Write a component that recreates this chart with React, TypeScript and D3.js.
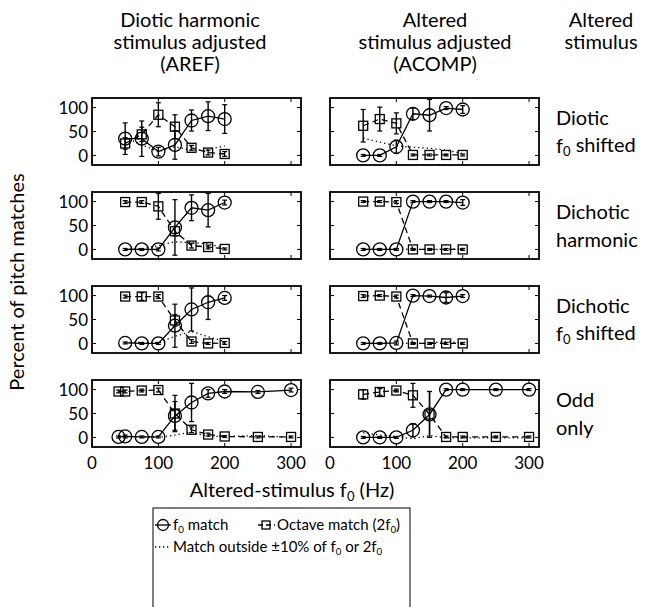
import React from "react";
import * as d3 from "d3";

// ---------- tick labels / categories ----------
const xTicks = [0, 100, 200, 300];
const yTicks = [0, 50, 100];
const colTitles = [
  ["Diotic harmonic", "stimulus adjusted", "(AREF)"],
  ["Altered", "stimulus adjusted", "(ACOMP)"],
];
const sideTitle = ["Altered", "stimulus"];
// each row label: list of lines, each line is [text, subscript?, rest?]
const rowLabels: string[][][] = [
  [["Diotic"], ["f", "0", " shifted"]],
  [["Dichotic"], ["harmonic"]],
  [["Dichotic"], ["f", "0", " shifted"]],
  [["Odd"], ["only"]],
];

// ---------- x values (Hz) ----------
const fShort = [50, 75, 100, 125, 150, 175, 200];
const fLongA = [40, 50, 75, 100, 125, 150, 175, 200, 250, 300];
const fLongC = [50, 75, 100, 125, 150, 175, 200, 250, 300];

// ---------- Row 1: Diotic f0 shifted ----------
const r1aF0 = [35, 35, 8, 22, 73, 82, 76];
const r1aF0Err = [33, 37, 9, 30, 22, 30, 30];
const r1aOct = [25, 44, 85, 60, 16, 6, 3];
const r1aOctErr = [12, 15, 25, 25, 5, 5, 5];
const r1aOut = [38, 22, 8, 18, 11, 12, 20];

const r1cF0 = [0, 0, 18, 87, 84, 99, 96];
const r1cF0Err = [2, 2, 14, 12, 33, 3, 8];
const r1cOct = [62, 76, 67, 1, 1, 1, 1];
const r1cOctErr = [34, 25, 22, 2, 2, 2, 2];
const r1cOut = [36, 28, 20, 17, 15, 11, 4];

// ---------- Row 2: Dichotic harmonic ----------
const r2aF0 = [0, 0, 0, 46, 87, 82, 98];
const r2aF0Err = [2, 2, 3, 58, 27, 35, 5];
const r2aOct = [99, 99, 90, 38, 8, 5, 1];
const r2aOctErr = [3, 3, 27, 10, 5, 4, 2];
const r2aOut = [1, 1, 8, 16, 14, 12, 2];

const r2cF0 = [0, 0, 0, 100, 100, 100, 98];
const r2cF0Err = [2, 2, 2, 2, 2, 2, 6];
const r2cOct = [100, 100, 99, 0, 0, 0, 0];
const r2cOctErr = [2, 2, 3, 2, 2, 2, 2];
const r2cOut = [0, 0, 1, 0, 0, 0, 2];

// ---------- Row 3: Dichotic f0 shifted ----------
const r3aF0 = [1, 0, 0, 37, 71, 86, 95];
const r3aF0Err = [2, 2, 2, 45, 45, 36, 5];
const r3aOct = [98, 98, 98, 48, 4, 0, 1];
const r3aOctErr = [3, 8, 4, 12, 4, 2, 3];
const r3aOut = [2, 2, 2, 15, 25, 14, 4];

const r3cF0 = [0, 0, 1, 100, 99, 96, 99];
const r3cF0Err = [2, 2, 4, 2, 2, 10, 3];
const r3cOct = [99, 100, 98, 0, 0, 0, 0];
const r3cOctErr = [3, 2, 3, 2, 2, 2, 2];
const r3cOut = [1, 0, 1, 0, 1, 4, 1];

// ---------- Row 4: Odd only ----------
const r4aF0 = [1, 2, 1, 1, 45, 73, 92, 96, 95, 99];
const r4aF0Err = [2, 3, 2, 2, 30, 40, 8, 4, 3, 4];
const r4aOct = [96, 96, 98, 99, 50, 16, 6, 2, 1, 1];
const r4aOctErr = [3, 3, 3, 4, 38, 6, 3, 2, 2, 2];
const r4aOut = [3, 2, 1, 0, 5, 11, 2, 2, 4, 0];

const r4cF0 = [0, 0, 0, 15, 48, 100, 100, 100, 100];
const r4cF0Err = [2, 2, 2, 14, 48, 2, 2, 2, 2];
const r4cOct = [90, 95, 98, 88, 48, 1, 1, 1, 1];
const r4cOctErr = [10, 7, 3, 25, 48, 2, 2, 2, 2];
const r4cOut = [10, 5, 2, -3, 4, -1, -1, -1, -1];

type PanelData = {
  x: number[];
  f0: number[]; f0Err: number[];
  oct: number[]; octErr: number[];
  out: number[];
};

const panels: PanelData[][] = [
  [
    { x: fShort, f0: r1aF0, f0Err: r1aF0Err, oct: r1aOct, octErr: r1aOctErr, out: r1aOut },
    { x: fShort, f0: r1cF0, f0Err: r1cF0Err, oct: r1cOct, octErr: r1cOctErr, out: r1cOut },
  ],
  [
    { x: fShort, f0: r2aF0, f0Err: r2aF0Err, oct: r2aOct, octErr: r2aOctErr, out: r2aOut },
    { x: fShort, f0: r2cF0, f0Err: r2cF0Err, oct: r2cOct, octErr: r2cOctErr, out: r2cOut },
  ],
  [
    { x: fShort, f0: r3aF0, f0Err: r3aF0Err, oct: r3aOct, octErr: r3aOctErr, out: r3aOut },
    { x: fShort, f0: r3cF0, f0Err: r3cF0Err, oct: r3cOct, octErr: r3cOctErr, out: r3cOut },
  ],
  [
    { x: fLongA, f0: r4aF0, f0Err: r4aF0Err, oct: r4aOct, octErr: r4aOctErr, out: r4aOut },
    { x: fLongC, f0: r4cF0, f0Err: r4cF0Err, oct: r4cOct, octErr: r4cOctErr, out: r4cOut },
  ],
];

// ---------- layout ----------
const W = 649;
const H = 607;
const FONT = "Lato, 'Open Sans', sans-serif";
const colX = [92, 330];
const colTitleX = [190, 435];
const panelW = 209;
const rowTop = [98, 192, 286, 380];
const panelH = 67;
const TICK = 4;

function Panel({ d, x0, y0, showY, showX }: { d: PanelData; x0: number; y0: number; showY: boolean; showX: boolean }) {
  const xs = d3.scaleLinear().domain([0, 315]).range([x0, x0 + panelW]);
  const ys = d3.scaleLinear().domain([-20, 120]).range([y0 + panelH, y0]);
  const pts = (vals: number[]) => d.x.map((xv, i) => [xv, vals[i]] as [number, number]);
  const line = d3.line<[number, number]>().x((p) => xs(p[0])).y((p) => ys(p[1]));
  const clipId = `clip-${x0}-${y0}`;
  const cap = 2.5;
  const errBars = (vals: number[], errs: number[], key: string) =>
    d.x.map((xv, i) => {
      const cx = xs(xv);
      const top = ys(Math.min(vals[i] + errs[i], 120));
      const bot = ys(Math.max(vals[i] - errs[i], -20));
      return (
        <g key={key + i}>
          <line x1={cx} x2={cx} y1={top} y2={bot} stroke="#000" strokeWidth={1.4} />
          <line x1={cx - cap} x2={cx + cap} y1={top} y2={top} stroke="#000" strokeWidth={1.2} />
          <line x1={cx - cap} x2={cx + cap} y1={bot} y2={bot} stroke="#000" strokeWidth={1.2} />
        </g>
      );
    });
  return (
    <g>
      <defs>
        <clipPath id={clipId}>
          <rect x={x0} y={y0} width={panelW} height={panelH} />
        </clipPath>
      </defs>
      <g clipPath={`url(#${clipId})`}>
        <path d={line(pts(d.out)) || ""} fill="none" stroke="#000" strokeWidth={1.3} strokeDasharray="1.3,3" />
        <path d={line(pts(d.oct)) || ""} fill="none" stroke="#000" strokeWidth={1.3} strokeDasharray="6,4" />
        <path d={line(pts(d.f0)) || ""} fill="none" stroke="#000" strokeWidth={1.3} />
        {errBars(d.oct, d.octErr, "eo")}
        {errBars(d.f0, d.f0Err, "ef")}
        {d.x.map((xv, i) => (
          <rect key={"s" + i} x={xs(xv) - 4.5} y={ys(d.oct[i]) - 4.5} width={9} height={9} fill="none" stroke="#000" strokeWidth={1.3} />
        ))}
        {d.x.map((xv, i) => (
          <circle key={"c" + i} cx={xs(xv)} cy={ys(d.f0[i])} r={6.5} fill="none" stroke="#000" strokeWidth={1.3} />
        ))}
      </g>
      {xTicks.map((t) => (
        <g key={"xt" + t}>
          <line x1={xs(t)} x2={xs(t)} y1={y0 + panelH} y2={y0 + panelH - TICK} stroke="#000" strokeWidth={1} />
          <line x1={xs(t)} x2={xs(t)} y1={y0} y2={y0 + TICK} stroke="#000" strokeWidth={1} />
        </g>
      ))}
      {yTicks.map((t) => (
        <g key={"yt" + t}>
          <line x1={x0} x2={x0 + TICK} y1={ys(t)} y2={ys(t)} stroke="#000" strokeWidth={1} />
          <line x1={x0 + panelW} x2={x0 + panelW - TICK} y1={ys(t)} y2={ys(t)} stroke="#000" strokeWidth={1} />
        </g>
      ))}
      <rect x={x0} y={y0} width={panelW} height={panelH} fill="none" stroke="#000" strokeWidth={1.8} />
      {showY &&
        yTicks.map((t) => (
          <text key={"yl" + t} x={x0 - 4} y={ys(t)} dy="0.36em" textAnchor="end" fontSize={17} fontFamily={FONT}>
            {t}
          </text>
        ))}
      {showX &&
        xTicks.map((t) => (
          <text key={"xl" + t} x={xs(t)} y={y0 + panelH + 22} textAnchor="middle" fontSize={17} fontFamily={FONT}>
            {t}
          </text>
        ))}
    </g>
  );
}

function Sub({ parts }: { parts: string[] }) {
  return (
    <>
      {parts[0]}
      {parts.length > 1 && (
        <tspan fontSize="0.65em" dy="0.3em">
          {parts[1]}
        </tspan>
      )}
      {parts.length > 2 && <tspan dy="-0.2em">{parts[2]}</tspan>}
    </>
  );
}

export default function App() {
  const legX = 153;
  const legY = 508;
  return (
    <svg width={W} height={H} style={{ display: "block", position: "absolute", left: 0, top: 0 }}>
      <rect width={W} height={H} fill="#fff" />
      {colTitles.map((lines, c) =>
        lines.map((ln, i) => (
          <text key={"ct" + c + i} x={colTitleX[c]} y={27 + i * 22} textAnchor="middle" fontSize={20} fontFamily={FONT}>
            {ln}
          </text>
        ))
      )}
      {sideTitle.map((ln, i) => (
        <text key={"st" + i} x={601} y={27 + i * 22} textAnchor="middle" fontSize={20} fontFamily={FONT}>
          {ln}
        </text>
      ))}
      {rowLabels.map((lines, r) =>
        lines.map((parts, i) => (
          <text key={"rl" + r + i} x={556} y={rowTop[r] + panelH / 2 - 7 + i * 28} fontSize={20} fontFamily={FONT}>
            <Sub parts={parts} />
          </text>
        ))
      )}
      {panels.map((row, r) =>
        row.map((d, c) => (
          <Panel key={"p" + r + c} d={d} x0={colX[c]} y0={rowTop[r]} showY={c === 0} showX={r === 3} />
        ))
      )}
      <text
        transform={`translate(24, 282) rotate(-90)`}
        textAnchor="middle"
        fontSize={20}
        fontFamily={FONT}
      >
        Percent of pitch matches
      </text>
      <text x={292} y={497} textAnchor="middle" fontSize={20} fontFamily={FONT}>
        <Sub parts={["Altered-stimulus f", "0", " (Hz)"]} />
      </text>
      {/* legend */}
      <rect x={legX} y={legY} width={257} height={120} fill="#fff" stroke="#000" strokeWidth={1} />
      <g>
        <line x1={legX + 2} x2={legX + 18} y1={legY + 17} y2={legY + 17} stroke="#000" strokeWidth={1.3} />
        <circle cx={legX + 10} cy={legY + 17} r={5.5} fill="none" stroke="#000" strokeWidth={1.3} />
        <text x={legX + 20} y={legY + 22} fontSize={15} fontFamily={FONT}>
          <Sub parts={["f", "0", " match"]} />
        </text>
        <line x1={legX + 105} x2={legX + 122} y1={legY + 17} y2={legY + 17} stroke="#000" strokeWidth={1.3} strokeDasharray="5,3" />
        <rect x={legX + 109} y={legY + 13} width={8} height={8} fill="none" stroke="#000" strokeWidth={1.3} />
        <text x={legX + 124} y={legY + 22} fontSize={15} fontFamily={FONT}>
          <Sub parts={["Octave match (2f", "0", ")"]} />
        </text>
        <line x1={legX + 2} x2={legX + 18} y1={legY + 39} y2={legY + 39} stroke="#000" strokeWidth={1.3} strokeDasharray="1.3,2.7" />
        <text x={legX + 20} y={legY + 44} fontSize={15} fontFamily={FONT}>
          Match outside ±10% of f<tspan fontSize="0.65em" dy="0.3em">0</tspan>
          <tspan dy="-0.2em"> or 2f</tspan>
          <tspan fontSize="0.65em" dy="0.3em">0</tspan>
        </text>
      </g>
    </svg>
  );
}
